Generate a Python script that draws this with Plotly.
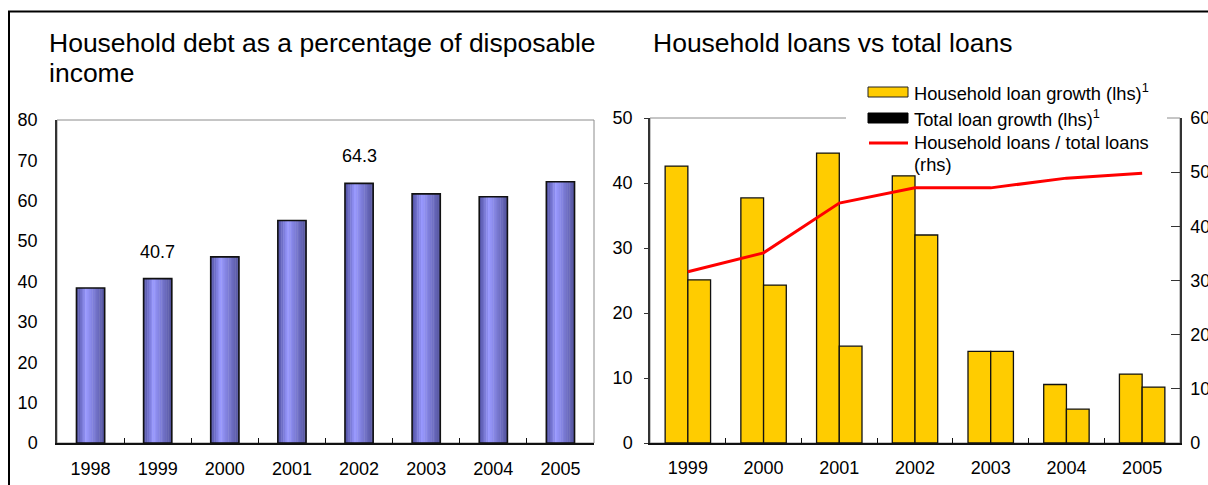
import plotly.graph_objects as go

# ---------------- data ----------------
years_left = ["1998", "1999", "2000", "2001", "2002", "2003", "2004", "2005"]
debt_pct_income = [38.4, 40.7, 46.1, 55.1, 64.3, 61.7, 61.0, 64.7]
labelled_years = ["1999", "2002"]

years_right = ["1999", "2000", "2001", "2002", "2003", "2004", "2005"]
household_loan_growth = [42.6, 37.7, 44.6, 41.1, 14.1, 9.0, 10.6]
total_loan_growth = [25.1, 24.3, 14.9, 32.0, 14.1, 5.2, 8.6]
household_share = [31.6, 35.1, 44.3, 47.1, 47.1, 48.9, 49.8]

left_ticks = [0, 10, 20, 30, 40, 50, 60, 70, 80]
right_lhs_ticks = [0, 10, 20, 30, 40, 50]
right_rhs_ticks = [0, 10, 20, 30, 40, 50, 60]

# ---------------- layout helpers ----------------
W, H = 1208, 485
FONT = "Liberation Sans, Arial, sans-serif"


def px(x):
    return x / W


def py(y):
    return 1 - y / H


fig = go.Figure()

# ---- left chart: gradient bars built from stripes ----
BAR_W = 0.42
N = 16
stops = [(0.0, (78, 78, 158)), (0.35, (153, 153, 255)), (1.0, (82, 82, 155))]


def grad(t):
    for (t0, c0), (t1, c1) in zip(stops[:-1], stops[1:]):
        if t0 <= t <= t1:
            f = (t - t0) / (t1 - t0)
            return "rgb(%d,%d,%d)" % tuple(round(a + (b - a) * f) for a, b in zip(c0, c1))
    return "rgb(%d,%d,%d)" % stops[-1][1]


sw = BAR_W / N
for i in range(N):
    t = (i + 0.5) / N
    fig.add_trace(go.Bar(
        x=years_left, y=debt_pct_income, xaxis="x", yaxis="y",
        width=sw + 0.006, offset=-BAR_W / 2 + i * sw,
        marker=dict(color=grad(t), line=dict(width=0)),
        showlegend=False, hoverinfo="skip"))
# outline
fig.add_trace(go.Bar(
    x=years_left, y=debt_pct_income, xaxis="x", yaxis="y",
    width=BAR_W, offset=-BAR_W / 2,
    marker=dict(color="rgba(0,0,0,0)", line=dict(color="#111111", width=1.6)),
    showlegend=False, name="Household debt"))

# ---- right chart bars ----
RW = 0.30
fig.add_trace(go.Bar(
    x=years_right, y=household_loan_growth, xaxis="x2", yaxis="y2",
    width=RW, offset=-RW,
    marker=dict(color="#FFCC00", line=dict(color="#111111", width=1.3)),
    showlegend=False, name="Household loan growth (lhs)"))
fig.add_trace(go.Bar(
    x=years_right, y=total_loan_growth, xaxis="x2", yaxis="y2",
    width=RW, offset=0,
    marker=dict(color="#FFCC00", line=dict(color="#111111", width=1.3)),
    showlegend=False, name="Total loan growth (lhs)"))
fig.add_trace(go.Scatter(
    x=years_right, y=household_share, xaxis="x2", yaxis="y3",
    mode="lines", line=dict(color="#FF0000", width=3),
    showlegend=False, name="Household loans / total loans (rhs)"))

tickfont = dict(family=FONT, size=18, color="black")

fig.update_layout(
    width=W, height=H,
    margin=dict(l=0, r=0, t=0, b=0, autoexpand=False),
    paper_bgcolor="white", plot_bgcolor="white",
    barmode="overlay",
    font=dict(family=FONT, size=18, color="black"),
    xaxis=dict(domain=[px(57), px(594)], anchor="y", type="category", automargin=False,
               range=[-0.5, len(years_left) - 0.5],
               showline=True, linecolor="#111111", linewidth=2,
               ticks="inside", tickson="boundaries", ticklen=5, tickcolor="#111111",
               tickwidth=1, showgrid=False, tickfont=tickfont, ticklabelstandoff=8),
    yaxis=dict(domain=[py(443), py(120)], anchor="x", range=[0, 80], automargin=False,
               tickvals=left_ticks, showline=True, linecolor="#333333", linewidth=1.5,
               ticks="", showgrid=False, zeroline=False, tickfont=tickfont,
               ticklabelstandoff=14),
    xaxis2=dict(domain=[px(650), px(1180)], anchor="y2", type="category", automargin=False,
                range=[-0.5, len(years_right) - 0.5],
                showline=True, linecolor="#111111", linewidth=2,
                ticks="inside", tickson="boundaries", ticklen=5, tickcolor="#111111",
                tickwidth=1, showgrid=False, tickfont=tickfont, ticklabelstandoff=7),
    yaxis2=dict(domain=[py(443), py(118)], anchor="x2", range=[0, 50], automargin=False,
                tickvals=right_lhs_ticks, showline=True, linecolor="#333333", linewidth=1.5,
                ticks="outside", ticklen=4, tickcolor="#333333",
                showgrid=False, zeroline=False, tickfont=tickfont, ticklabelstandoff=8),
    yaxis3=dict(overlaying="y2", anchor="x2", side="right", range=[0, 60], automargin=False,
                tickvals=right_rhs_ticks, showline=True, linecolor="#333333", linewidth=1.5,
                ticks="inside", ticklen=9, tickcolor="#333333",
                showgrid=False, zeroline=False, tickfont=tickfont, ticklabelstandoff=5),
)

shapes = [
    # outer border
    dict(type="rect", xref="paper", yref="paper", x0=px(9), x1=1.05, y0=-0.05, y1=py(11.5),
         line=dict(color="black", width=2), fillcolor="rgba(0,0,0,0)", layer="above"),
    # plot frames
    dict(type="rect", xref="x domain", yref="y domain", x0=0, x1=1, y0=0, y1=1,
         line=dict(color="#8c8c8c", width=1), layer="below"),
    dict(type="rect", xref="x2 domain", yref="y2 domain", x0=0, x1=1, y0=0, y1=1,
         line=dict(color="#8c8c8c", width=1), layer="below"),
    # legend background
    dict(type="rect", xref="paper", yref="paper", x0=px(846), x1=px(1167), y0=py(171), y1=py(74),
         line=dict(width=0), fillcolor="white", layer="above"),
    # legend swatches
    dict(type="rect", xref="paper", yref="paper", x0=px(868), x1=px(908), y0=py(97), y1=py(87),
         line=dict(color="#222222", width=1), fillcolor="#FFCC00", layer="above"),
    dict(type="rect", xref="paper", yref="paper", x0=px(868), x1=px(908), y0=py(123), y1=py(113),
         line=dict(color="black", width=1), fillcolor="black", layer="above"),
    dict(type="line", xref="paper", yref="paper", x0=px(869), x1=px(908), y0=py(143), y1=py(143),
         line=dict(color="#FF0000", width=3), layer="above"),
]

TITLE_FONT = dict(family=FONT, size=26.5, color="black")
annotations = [
    dict(text="Household debt as a percentage of disposable", xref="paper", yref="paper",
         x=px(47), y=py(26), xanchor="left", yanchor="top", align="left", showarrow=False,
         font=TITLE_FONT),
    dict(text="income", xref="paper", yref="paper",
         x=px(47), y=py(55.5), xanchor="left", yanchor="top", align="left", showarrow=False,
         font=TITLE_FONT),
    dict(text="Household loans vs total loans", xref="paper", yref="paper",
         x=px(651), y=py(26), xanchor="left", yanchor="top", align="left", showarrow=False,
         font=TITLE_FONT),
    dict(text="Household loan growth (lhs)<sup>1</sup>", xref="paper", yref="paper",
         x=px(912), y=py(92), xanchor="left", yanchor="middle", showarrow=False,
         font=dict(family=FONT, size=18.3, color="black")),
    dict(text="Total loan growth (lhs)<sup>1</sup>", xref="paper", yref="paper",
         x=px(912), y=py(118), xanchor="left", yanchor="middle", showarrow=False,
         font=dict(family=FONT, size=18.3, color="black")),
    dict(text="Household loans / total loans", xref="paper", yref="paper",
         x=px(912), y=py(142), xanchor="left", yanchor="middle", showarrow=False,
         font=dict(family=FONT, size=18.3, color="black")),
    dict(text="(rhs)", xref="paper", yref="paper",
         x=px(912), y=py(164), xanchor="left", yanchor="middle", showarrow=False,
         font=dict(family=FONT, size=18.3, color="black")),
]

for yr in labelled_years:
    idx = years_left.index(yr)
    v = debt_pct_income[idx]
    annotations.append(dict(text=f"{v:.1f}", x=idx, y=v, xref="x", yref="y",
                            yanchor="middle", yshift=27, showarrow=False,
                            font=dict(family=FONT, size=18, color="black")))

fig.update_layout(shapes=shapes, annotations=annotations)

fig.write_html("out.html")
